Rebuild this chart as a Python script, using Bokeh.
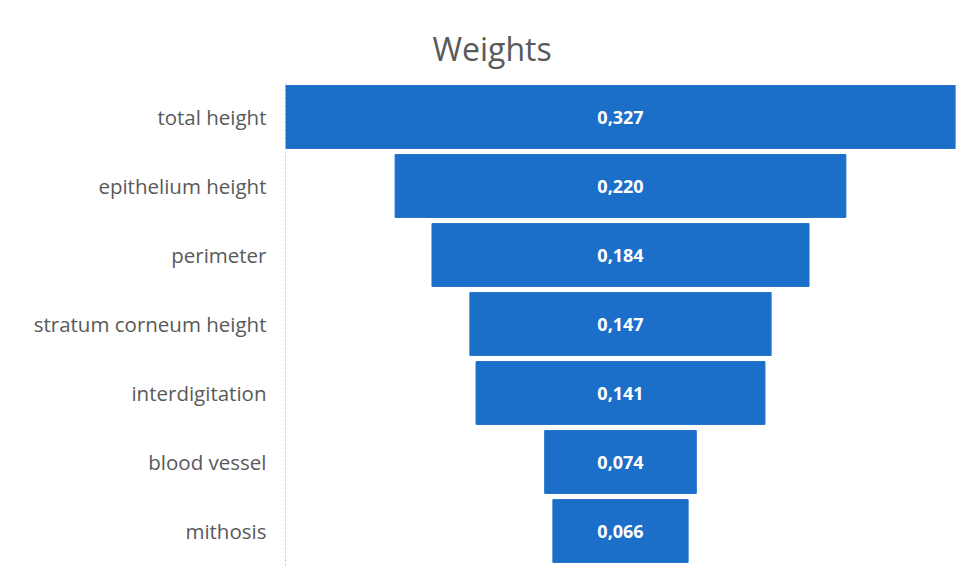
from bokeh.plotting import figure
from bokeh.models import ColumnDataSource, Range1d, FactorRange, LabelSet
from bokeh.core.properties import value
from bokeh.embed import file_html
from bokeh.resources import INLINE

categories = ["total height", "epithelium height", "perimeter", "stratum corneum height",
              "interdigitation", "blood vessel", "mithosis"]
weights = [0.327, 0.220, 0.184, 0.147, 0.141, 0.074, 0.066]
labels = ["0,327", "0,220", "0,184", "0,147", "0,141", "0,074", "0,066"]

half_max = max(weights) / 2
src = ColumnDataSource(dict(
    cat=categories,
    left=[-w / 2 for w in weights],
    right=[w / 2 for w in weights],
    mid=[0.0] * len(weights),
    lab=labels,
))

p = figure(width=970, height=577, output_backend="svg", toolbar_location=None,
           y_range=FactorRange(*reversed(categories), range_padding=0),
           x_range=Range1d(-half_max, half_max),
           min_border_left=285, min_border_right=15, min_border_top=82, min_border_bottom=12)

p.title.text = "Weights"
p.title.text_font = "Open Sans"
p.title.text_font_size = "32px"
p.title.text_font_style = "normal"
p.title.text_color = "#595959"
p.title.align = "left"
p.title.offset = 147
p.title.standoff = 25

p.hbar(y="cat", left="left", right="right", height=0.91, source=src,
       fill_color="#1c6fc8", line_color="#1c6fc8")

lbl = LabelSet(x="mid", y="cat", text="lab", source=src, text_color="white",
               text_font=value("Open Sans"), text_font_size="18px", text_font_style="bold",
               text_align="center", text_baseline="middle")
p.add_layout(lbl)

p.xaxis.visible = False
p.xgrid.visible = False
p.ygrid.visible = False
p.outline_line_color = None

ax = p.yaxis[0]
ax.axis_line_color = "#c8c8c8"
ax.axis_line_dash = "2 2"
ax.major_tick_line_color = None
ax.minor_tick_line_color = None
ax.major_label_text_font = "Open Sans"
ax.major_label_text_font_size = "20.5px"
ax.major_label_text_color = "#595959"
ax.major_label_standoff = 13

p.background_fill_color = "white"
p.border_fill_color = "white"

open("out.html", "w").write(file_html(p, INLINE))
